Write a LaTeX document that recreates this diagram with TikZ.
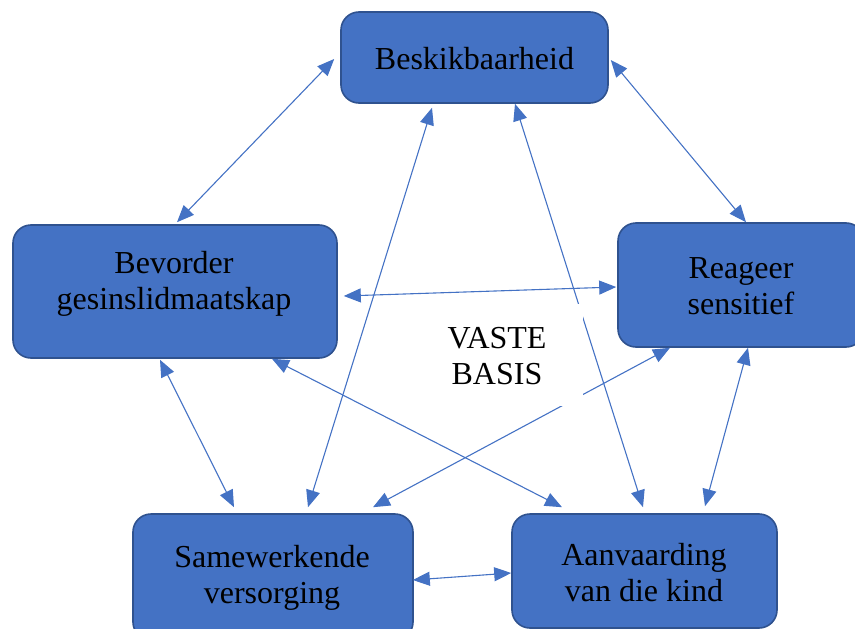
\documentclass[tikz,border=0pt]{standalone}
\usepackage{fontspec}
\setmainfont{Liberation Serif}
\usetikzlibrary{arrows.meta,calc}
\definecolor{boxfill}{HTML}{4472C4}
\definecolor{boxline}{HTML}{2F528F}
\definecolor{arr}{HTML}{4472C4}
\begin{document}
\begin{tikzpicture}[x=1pt,y=-1pt,
  >={Triangle[length=17pt,width=14pt]},
  box/.style={draw=boxline,line width=1.6pt,fill=boxfill,rounded corners=18pt,inner sep=0pt},
  txt/.style={font=\fontsize{32}{36}\selectfont,align=center,inner sep=0pt,text=black},
  link/.style={draw=arr,line width=1.1pt,<->}]
\useasboundingbox (0,0) rectangle (855,629);
\clip (0,0) rectangle (855,629);
% boxes
\node[box,minimum width=267pt,minimum height=91pt] (besk) at (474.5,57.5) {};
\node[box,minimum width=324pt,minimum height=133pt] (bev) at (175,291.5) {};
\node[box,minimum width=246pt,minimum height=124pt] (reag) at (741,285) {};
\node[box,minimum width=280pt,minimum height=126pt] (same) at (273,577) {};
\node[box,minimum width=265pt,minimum height=114pt] (aanv) at (644.5,571) {};
% texts
\node[txt] (tbesk) at (474.5,61.5) {\rule{0pt}{23pt}Beskikbaarheid\rule[-8pt]{0pt}{8pt}};
\node[txt] (tbev) at (174,283.5) {\rule{0pt}{23pt}Bevorder\\gesinslidmaatskap\rule[-8pt]{0pt}{8pt}};
\node[txt] (treag) at (741,288.5) {\rule{0pt}{23pt}Reageer\\sensitief\rule[-8pt]{0pt}{8pt}};
\node[txt] (tsame) at (272,577.5) {\rule{0pt}{23pt}Samewerkende\\versorging\rule[-8pt]{0pt}{8pt}};
\node[txt] (taanv) at (644,575.5) {\rule{0pt}{23pt}Aanvaarding\\van die kind\rule[-8pt]{0pt}{8pt}};
% connectors
\draw[link] ($(besk.west)+(-6,1.5)$) -- ($(bev.north)+(2,-2)$);
\draw[link] ($(besk.east)+(2,2.5)$) -- ($(reag.north)+(5,0)$);
\draw[link] ($(besk.south)+(-42.5,4)$) -- ($(same.north)+(35,-6)$);
\draw[link] ($(besk.south)+(40.5,0)$) -- ($(aanv.north)+(-1.5,-6)$);
\draw[link] ($(bev.east)+(6,4.5)$) -- ($(reag.west)+(-1,2)$);
\draw[link] ($(bev.south)+(-15,1)$) -- ($(same.north)+(-39,-6)$);
\draw[link] ($(bev.south)+(97,0)$) -- ($(aanv.north)+(-82.5,-6)$);
\draw[link] ($(reag.south)+(-71,0)$) -- ($(same.north)+(100,-6)$);
\draw[link] ($(reag.south)+(7,0)$) -- ($(aanv.north)+(60.5,-7)$);
\draw[link] ($(same.east)+(-1,3)$) -- ($(aanv.west)+(0,2)$);
% centre label on white ground
\node[txt,fill=white,minimum width=172pt,minimum height=102pt] (basis) at (497,355) {\rule{0pt}{30pt}VASTE\\BASIS\rule[-8pt]{0pt}{8pt}};
\end{tikzpicture}
\end{document}
